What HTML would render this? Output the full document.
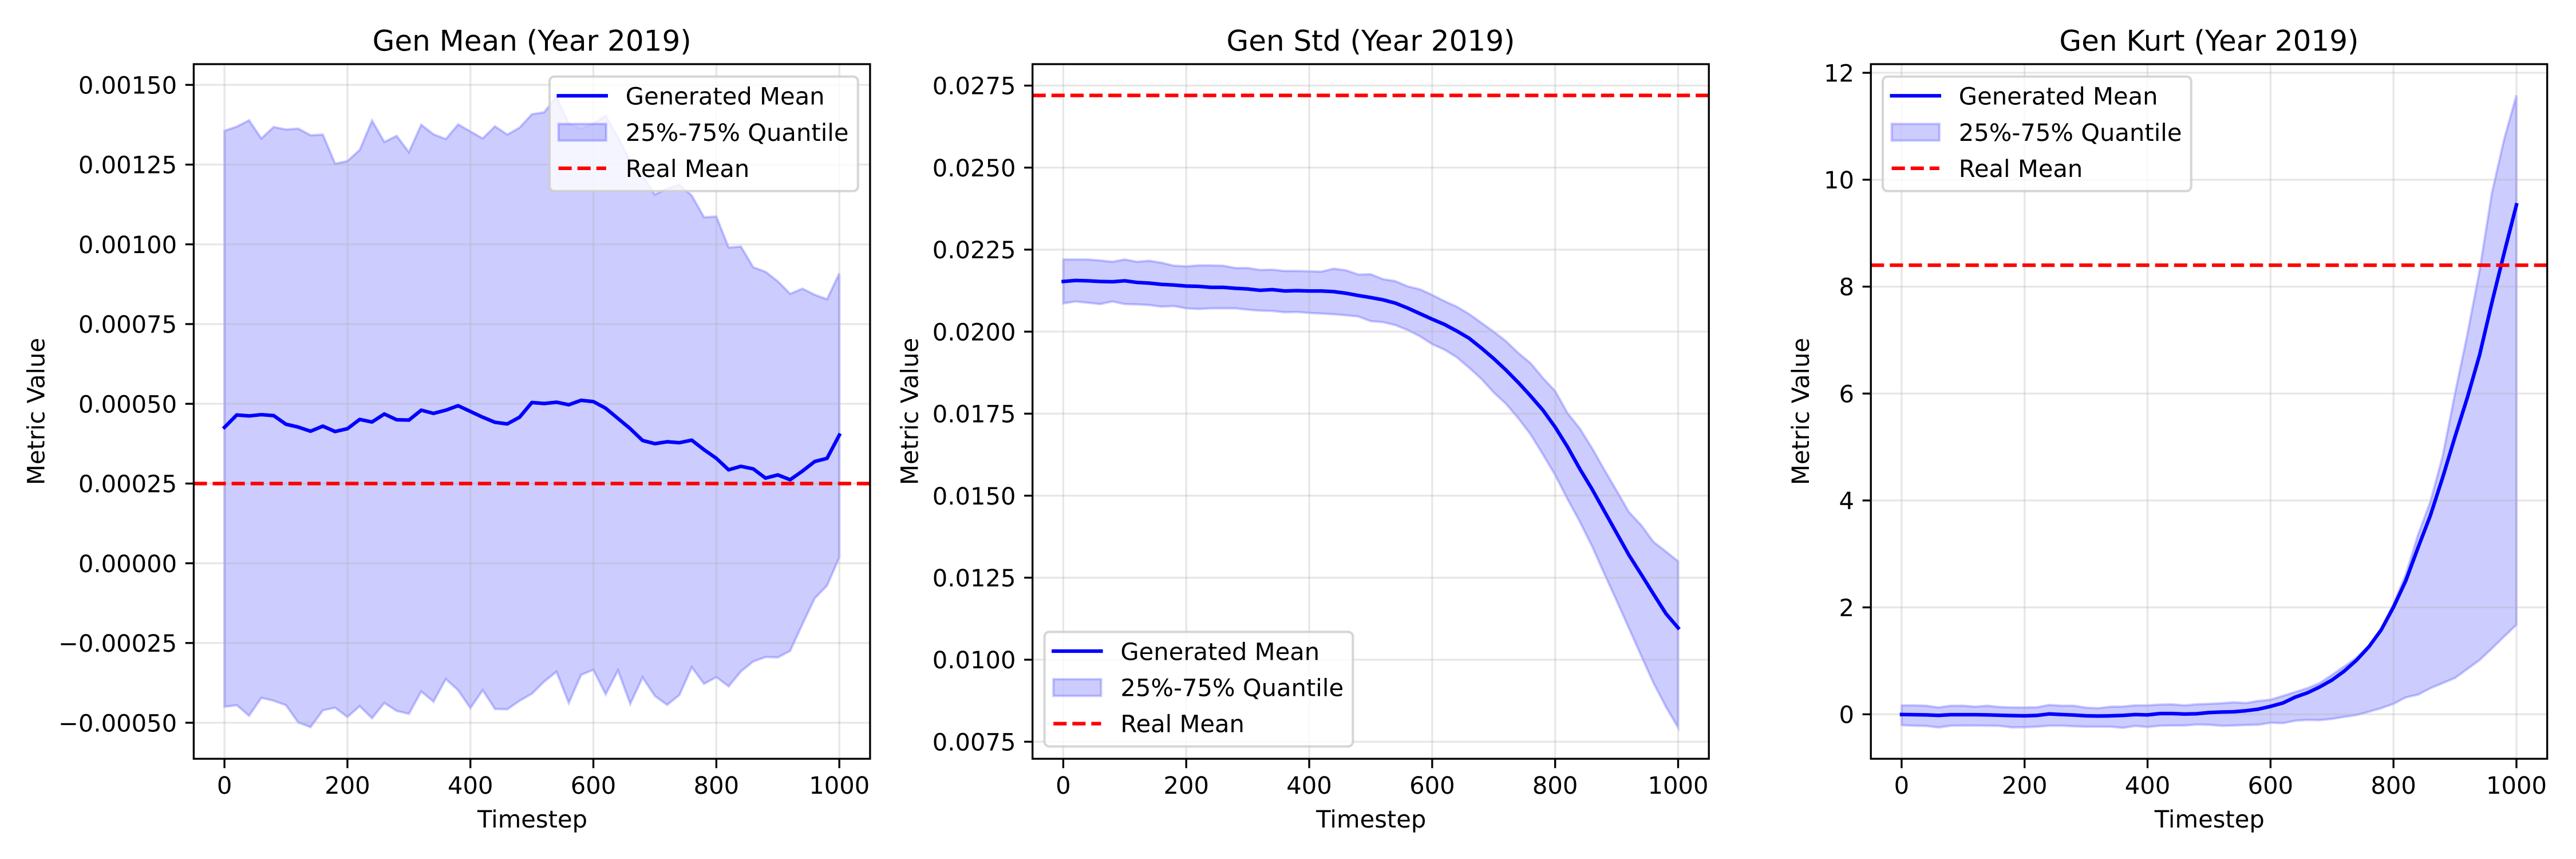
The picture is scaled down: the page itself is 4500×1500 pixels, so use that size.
<!DOCTYPE html>
<html lang="en">
<head>
<meta charset="utf-8">
<title>Generated vs Real Metrics (Year 2019)</title>
<style>
  html, body { margin: 0; padding: 0; background: #fff; }
  svg { display: block; }
  text { font-family: "DejaVu Sans", "Liberation Sans", sans-serif; fill: #000; text-rendering: geometricPrecision; }
  .title { font-size: 50px; text-anchor: middle; }
  .label { font-size: 41.67px; text-anchor: middle; }
  .legend-text { font-size: 41.67px; }
  .tick-x { font-size: 41.67px; text-anchor: middle; }
  .tick-y { font-size: 41.67px; text-anchor: end; }
  .spine { fill: none; stroke: #000; stroke-width: 3.33; }
  .frame { fill: #fff; fill-opacity: .8; stroke: #ccc; stroke-opacity: .8; stroke-width: 4.17; }
  .swatch { fill: #00f; fill-opacity: .2; stroke: #00f; stroke-opacity: .2; stroke-width: 4.17; }
  .key-solid { stroke: #00f; stroke-width: 6.25; stroke-linecap: square; fill: none; }
  .key-dash { stroke: #f00; stroke-width: 6.25; stroke-dasharray: 23.1 10; fill: none; }
</style>
</head>
<body>
<svg id="figure" xmlns="http://www.w3.org/2000/svg" width="4500" height="1500" viewBox="0 0 4500 1500">
  <rect width="4500" height="1500" fill="#fff"/>

  <g id="panel-mean">
    <g id="marks-mean"></g>
    <rect class="spine" x="338.4" y="112" width="1181.5" height="1213"/>
    <g id="ticks-mean"></g>
    <text class="title" x="929.2" y="88.3">Gen Mean (Year 2019)</text>
    <text class="label" x="930" y="1445">Timestep</text>
    <text class="label" transform="translate(77.5 718.5) rotate(-90)">Metric Value</text>
    <g transform="translate(960 133.7)">
      <rect class="frame" width="538.8" height="200" rx="8.33" ry="8.33"/>
      <line class="key-solid" x1="15.6" x2="98.9" y1="33.6" y2="33.6"/>
      <text class="legend-text" x="132.8" y="48.9">Generated Mean</text>
      <rect class="swatch" x="15.6" y="82.6" width="83.3" height="29.2"/>
      <text class="legend-text" x="132.8" y="112.3">25%-75% Quantile</text>
      <line class="key-dash" x1="15.6" x2="98.9" y1="160.2" y2="160.2"/>
      <text class="legend-text" x="132.8" y="175.2">Real Mean</text>
    </g>
  </g>

  <g id="panel-std">
    <g id="marks-std"></g>
    <rect class="spine" x="1803.7" y="112" width="1181.5" height="1213"/>
    <g id="ticks-std"></g>
    <text class="title" x="2394.5" y="88.3">Gen Std (Year 2019)</text>
    <text class="label" x="2395.3" y="1445">Timestep</text>
    <text class="label" transform="translate(1603.6 718.5) rotate(-90)">Metric Value</text>
    <g transform="translate(1824.6 1103.4)">
      <rect class="frame" width="538.8" height="200" rx="8.33" ry="8.33"/>
      <line class="key-solid" x1="15.6" x2="98.9" y1="33.6" y2="33.6"/>
      <text class="legend-text" x="132.8" y="48.9">Generated Mean</text>
      <rect class="swatch" x="15.6" y="82.6" width="83.3" height="29.2"/>
      <text class="legend-text" x="132.8" y="112.3">25%-75% Quantile</text>
      <line class="key-dash" x1="15.6" x2="98.9" y1="160.2" y2="160.2"/>
      <text class="legend-text" x="132.8" y="175.2">Real Mean</text>
    </g>
  </g>

  <g id="panel-kurt">
    <g id="marks-kurt"></g>
    <rect class="spine" x="3268.2" y="112" width="1181.5" height="1213"/>
    <g id="ticks-kurt"></g>
    <text class="title" x="3859" y="88.3">Gen Kurt (Year 2019)</text>
    <text class="label" x="3859.8" y="1445">Timestep</text>
    <text class="label" transform="translate(3160 718.5) rotate(-90)">Metric Value</text>
    <g transform="translate(3289 133.7)">
      <rect class="frame" width="538.8" height="200" rx="8.33" ry="8.33"/>
      <line class="key-solid" x1="15.6" x2="98.9" y1="33.6" y2="33.6"/>
      <text class="legend-text" x="132.8" y="48.9">Generated Mean</text>
      <rect class="swatch" x="15.6" y="82.6" width="83.3" height="29.2"/>
      <text class="legend-text" x="132.8" y="112.3">25%-75% Quantile</text>
      <line class="key-dash" x1="15.6" x2="98.9" y1="160.2" y2="160.2"/>
      <text class="legend-text" x="132.8" y="175.2">Real Mean</text>
    </g>
  </g>
</svg>

<script>
const timesteps = [0,20,40,60,80,100,120,140,160,180,200,220,240,260,280,300,320,340,360,380,400,420,440,460,480,500,520,540,560,580,600,620,640,660,680,700,720,740,760,780,800,820,840,860,880,900,920,940,960,980,1000];
const xTicks = [0,200,400,600,800,1000];

const meanYTicks = [-0.0005,-0.00025,0,0.00025,0.0005,0.00075,0.001,0.00125,0.0015];
const meanYTickLabels = ["\u22120.00050","\u22120.00025","0.00000","0.00025","0.00050","0.00075","0.00100","0.00125","0.00150"];
const meanReal = 0.00025;
const meanAvg = [0.000426,0.000465,0.000462,0.000466,0.000463,0.000436,0.000427,0.000414,0.00043,0.000413,0.000422,0.000451,0.000443,0.000468,0.00045,0.000449,0.00048,0.00047,0.00048,0.000494,0.000476,0.000458,0.000442,0.000437,0.000458,0.000504,0.000501,0.000505,0.000497,0.000511,0.000507,0.000486,0.000454,0.000422,0.000385,0.000375,0.000381,0.000378,0.000386,0.000356,0.000329,0.000293,0.000304,0.000296,0.000267,0.000277,0.000262,0.000289,0.000319,0.000329,0.000402];
const meanUpper = [0.001356,0.001369,0.001389,0.001332,0.001368,0.00136,0.001363,0.001342,0.001344,0.001253,0.001261,0.001296,0.001388,0.001321,0.00134,0.001289,0.001375,0.001345,0.00133,0.001376,0.001354,0.001332,0.00137,0.001344,0.001366,0.001408,0.001414,0.001463,0.001378,0.001362,0.001379,0.001403,0.001335,0.001262,0.001216,0.001156,0.001175,0.001187,0.001153,0.001085,0.001087,0.00099,0.000993,0.000928,0.000914,0.000884,0.000845,0.000861,0.000842,0.000828,0.000909];
const meanLower = [-0.00045,-0.000445,-0.000478,-0.000422,-0.000431,-0.000445,-0.000499,-0.000514,-0.000461,-0.000453,-0.000482,-0.000448,-0.000486,-0.000438,-0.000463,-0.000472,-0.000402,-0.000434,-0.000363,-0.000398,-0.000454,-0.000398,-0.000457,-0.000458,-0.000431,-0.000409,-0.000371,-0.00034,-0.000438,-0.00035,-0.000334,-0.000411,-0.000336,-0.000441,-0.000358,-0.000416,-0.000444,-0.000413,-0.000326,-0.000378,-0.000357,-0.000386,-0.000339,-0.000308,-0.000294,-0.000295,-0.000275,-0.000191,-0.00011,-0.00007,0.000018];

const stdYTicks = [0.0075,0.01,0.0125,0.015,0.0175,0.02,0.0225,0.025,0.0275];
const stdYTickLabels = ["0.0075","0.0100","0.0125","0.0150","0.0175","0.0200","0.0225","0.0250","0.0275"];
const stdReal = 0.0272;
const stdAvg = [0.02153,0.02156,0.02155,0.02153,0.02152,0.02155,0.0215,0.02148,0.02144,0.02142,0.02139,0.02138,0.02135,0.02135,0.02132,0.0213,0.02126,0.02128,0.02124,0.02125,0.02124,0.02124,0.02122,0.02117,0.0211,0.02104,0.02097,0.02087,0.02072,0.02055,0.02038,0.02022,0.02002,0.0198,0.0195,0.01918,0.01883,0.01845,0.01804,0.01761,0.01709,0.01649,0.01582,0.0152,0.01453,0.01386,0.01319,0.0126,0.012,0.01141,0.01097];
const stdUpper = [0.0222,0.0222,0.0222,0.02217,0.02213,0.0222,0.02213,0.02216,0.0221,0.02201,0.02199,0.02202,0.02202,0.02201,0.02194,0.02194,0.02188,0.02189,0.02185,0.02185,0.02184,0.02183,0.02192,0.02187,0.02174,0.02175,0.0216,0.02154,0.02138,0.02129,0.02112,0.02093,0.02076,0.02054,0.02027,0.02,0.01971,0.01935,0.01904,0.01859,0.01819,0.01752,0.01705,0.01645,0.01579,0.01515,0.0145,0.0141,0.01359,0.0133,0.013];
const stdLower = [0.02086,0.02092,0.02088,0.02084,0.02092,0.02084,0.02083,0.02081,0.02076,0.02078,0.02071,0.02069,0.02071,0.02071,0.02071,0.02067,0.02064,0.02063,0.02059,0.0206,0.02057,0.02055,0.02053,0.0205,0.02046,0.02032,0.02029,0.0202,0.02005,0.01986,0.01962,0.01945,0.01922,0.0189,0.01856,0.01815,0.0178,0.01736,0.01687,0.01626,0.01563,0.0149,0.01421,0.01346,0.01262,0.0118,0.01096,0.01012,0.00929,0.00857,0.00793];

const kurtYTicks = [0,2,4,6,8,10,12];
const kurtYTickLabels = ["0","2","4","6","8","10","12"];
const kurtReal = 8.4;
const kurtAvg = [-0.004,-0.007,-0.011,-0.021,-0.007,-0.007,-0.007,-0.011,-0.018,-0.025,-0.029,-0.021,0.007,-0.004,-0.014,-0.029,-0.032,-0.029,-0.021,-0.004,-0.011,0.014,0.014,0.005,0.01,0.033,0.043,0.048,0.067,0.096,0.148,0.211,0.321,0.402,0.512,0.641,0.809,1.014,1.263,1.579,2.005,2.498,3.12,3.72,4.43,5.19,5.92,6.72,7.7,8.63,9.53];
const kurtUpper = [0.168,0.168,0.161,0.129,0.161,0.161,0.143,0.161,0.136,0.129,0.129,0.132,0.175,0.161,0.161,0.125,0.114,0.143,0.146,0.168,0.168,0.182,0.187,0.167,0.187,0.196,0.206,0.225,0.211,0.249,0.273,0.344,0.416,0.488,0.584,0.737,0.895,1.062,1.278,1.589,2.067,2.617,3.36,3.98,4.83,6,7.1,8.3,9.75,10.76,11.58];
const kurtLower = [-0.204,-0.214,-0.218,-0.246,-0.214,-0.211,-0.211,-0.214,-0.218,-0.246,-0.243,-0.232,-0.214,-0.214,-0.225,-0.232,-0.232,-0.232,-0.254,-0.218,-0.239,-0.214,-0.21,-0.21,-0.191,-0.196,-0.215,-0.21,-0.2,-0.196,-0.158,-0.167,-0.12,-0.105,-0.11,-0.086,-0.048,-0.014,0.048,0.115,0.196,0.316,0.368,0.488,0.584,0.679,0.847,1.014,1.23,1.455,1.675];

const SVG_NS = "http://www.w3.org/2000/svg";
const xDomain = [-50, 1050];
const axesTop = 112;
const axesBottom = 1325;
const axesWidth = 1181.5;

function node(parent, tag, attrs) {
  const el = document.createElementNS(SVG_NS, tag);
  for (const key in attrs) el.setAttribute(key, attrs[key]);
  parent.appendChild(el);
  return el;
}

function linearScale(d0, d1, r0, r1) {
  return function (v) { return r0 + (v - d0) / (d1 - d0) * (r1 - r0); };
}

function linePath(xs, ys, xFn, yFn) {
  return xs.map(function (x, i) {
    return (i ? "L" : "M") + xFn(x).toFixed(2) + " " + yFn(ys[i]).toFixed(2);
  }).join(" ");
}

function drawPanel(key, left, yDomain, yTicks, yLabels, avg, upper, lower, real) {
  const marks = document.getElementById("marks-" + key);
  const ticks = document.getElementById("ticks-" + key);
  const xFn = linearScale(xDomain[0], xDomain[1], left, left + axesWidth);
  const yFn = linearScale(yDomain[0], yDomain[1], axesBottom, axesTop);

  const band = linePath(timesteps, upper, xFn, yFn) + " " +
    linePath(timesteps.slice().reverse(), lower.slice().reverse(), xFn, yFn).replace("M", "L") + " Z";
  const bandEl = node(marks, "path", { d: band, fill: "#00f", "fill-opacity": 0.2, stroke: "#00f", "stroke-opacity": 0.2, "stroke-width": 4.17 });
  
  

  xTicks.forEach(function (t) {
    const x = xFn(t);
    const grid = node(marks, "line", { x1: x, x2: x, y1: axesTop, y2: axesBottom, stroke: "#b0b0b0", "stroke-opacity": 0.3, "stroke-width": 3.33 });
    
    
    const mark = node(ticks, "line", { x1: x, x2: x, y1: axesBottom, y2: axesBottom + 16.3, stroke: "#000", "stroke-width": 3.33 });
    
    
    const label = node(ticks, "text", { class: "tick-x", x: x, y: 1386.2 });
    
    
    label.textContent = String(t);
  });

  yTicks.forEach(function (v, i) {
    const y = yFn(v);
    const grid = node(marks, "line", { x1: left, x2: left + axesWidth, y1: y, y2: y, stroke: "#b0b0b0", "stroke-opacity": 0.3, "stroke-width": 3.33 });
    
    
    const mark = node(ticks, "line", { x1: left - 14.6, x2: left, y1: y, y2: y, stroke: "#000", "stroke-width": 3.33 });
    
    
    const label = node(ticks, "text", { class: "tick-y", x: left - 29.2, y: y + 15.2 });
    
    
    label.textContent = yLabels[i];
  });

  const meanLine = node(marks, "path", { d: linePath(timesteps, avg, xFn, yFn), fill: "none", stroke: "#00f", "stroke-width": 6.25, "stroke-linecap": "square", "stroke-linejoin": "round" });
  
  

  const realLine = node(marks, "line", { x1: left, x2: left + axesWidth, y1: yFn(real), y2: yFn(real), stroke: "#f00", "stroke-width": 6.25, "stroke-dasharray": "23.1 10" });
  
  
}

drawPanel("mean", 338.4, [-0.000613, 0.001565], meanYTicks, meanYTickLabels, meanAvg, meanUpper, meanLower, meanReal);
drawPanel("std", 1803.7, [0.00698, 0.028154], stdYTicks, stdYTickLabels, stdAvg, stdUpper, stdLower, stdReal);
drawPanel("kurt", 3268.2, [-0.832, 12.162], kurtYTicks, kurtYTickLabels, kurtAvg, kurtUpper, kurtLower, kurtReal);
</script>
</body>
</html>
